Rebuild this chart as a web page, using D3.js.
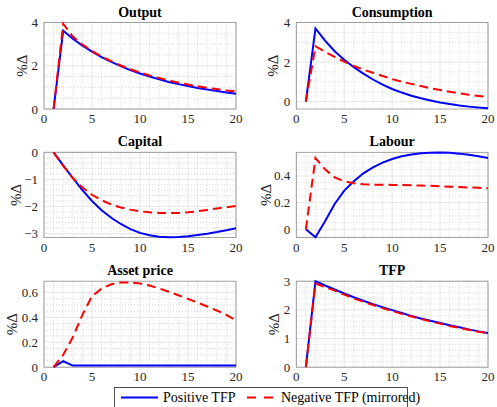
<!DOCTYPE html>
<html>
<head>
<meta charset="utf-8">
<script src="https://cdn.jsdelivr.net/npm/d3@7"></script>
</head>
<body style="margin:0">
<script>
// periods
var periods = [1,2,3,4,5,6,7,8,9,10,11,12,13,14,15,16,17,18,19,20];

// positive TFP shock (blue) / negative TFP shock mirrored (red)
var outputPos = [0,3.62,3.25,2.93,2.65,2.40,2.18,1.98,1.80,1.64,1.50,1.37,1.25,1.15,1.06,0.97,0.90,0.83,0.76,0.70];
var outputNeg = [0,3.94,3.35,2.98,2.68,2.43,2.21,2.01,1.84,1.69,1.55,1.43,1.32,1.22,1.13,1.05,0.98,0.92,0.86,0.81];

var consPos = [0,3.70,3.08,2.55,2.12,1.74,1.42,1.12,0.86,0.64,0.46,0.30,0.17,0.06,-0.04,-0.12,-0.19,-0.25,-0.30,-0.33];
var consNeg = [0,2.80,2.52,2.26,2.02,1.80,1.62,1.46,1.30,1.14,1.01,0.90,0.79,0.68,0.59,0.50,0.42,0.35,0.29,0.24];

var capPos = [0,-0.48,-0.95,-1.40,-1.80,-2.14,-2.42,-2.65,-2.84,-2.98,-3.07,-3.12,-3.14,-3.13,-3.10,-3.06,-3.01,-2.95,-2.88,-2.81];
var capNeg = [0,-0.50,-0.95,-1.30,-1.57,-1.77,-1.93,-2.04,-2.12,-2.18,-2.22,-2.24,-2.25,-2.24,-2.22,-2.18,-2.13,-2.08,-2.03,-1.98];

var labPos = [0,-0.06,0.06,0.19,0.29,0.36,0.42,0.465,0.50,0.528,0.548,0.562,0.571,0.575,0.576,0.574,0.568,0.559,0.548,0.536];
var labNeg = [0,0.535,0.45,0.39,0.36,0.345,0.338,0.335,0.334,0.333,0.332,0.330,0.328,0.326,0.323,0.320,0.317,0.314,0.311,0.308];

var assetPos = [0,0.048,0.013,0.013,0.013,0.013,0.013,0.013,0.013,0.013,0.013,0.013,0.013,0.013,0.013,0.013,0.013,0.013,0.013,0.013];
var assetNeg = [0,0.10,0.24,0.42,0.57,0.63,0.665,0.68,0.68,0.672,0.655,0.632,0.605,0.577,0.548,0.518,0.487,0.455,0.42,0.375];

var tfpPos = [0,3.00,2.85,2.71,2.57,2.44,2.32,2.20,2.09,1.99,1.89,1.79,1.70,1.62,1.54,1.46,1.39,1.32,1.25,1.19];
var tfpNeg = [0,2.92,2.80,2.67,2.53,2.40,2.28,2.17,2.06,1.96,1.86,1.77,1.68,1.60,1.52,1.44,1.37,1.30,1.24,1.18];

var xTicks = [0,5,10,15,20];
var legendLabels = ["Positive TFP", "Negative TFP (mirrored)"];

var panels = [
  {title: "Output",      pos: outputPos, neg: outputNeg, dom: [0,4],       ticks: [0,2,4],         minor: 0.5,  col: 0, row: 0},
  {title: "Consumption", pos: consPos,   neg: consNeg,   dom: [-0.37,4],   ticks: [0,2,4],         minor: 0.5,  col: 1, row: 0},
  {title: "Capital",     pos: capPos,    neg: capNeg,    dom: [-3.15,0],   ticks: [-3,-2,-1,0],    minor: 0.2,  col: 0, row: 1},
  {title: "Labour",      pos: labPos,    neg: labNeg,    dom: [-0.062,0.578], ticks: [0,0.2,0.4],  minor: 0.05, col: 1, row: 1},
  {title: "Asset price", pos: assetPos,  neg: assetNeg,  dom: [0,0.69],    ticks: [0,0.2,0.4,0.6], minor: 0.05, col: 0, row: 2},
  {title: "TFP",         pos: tfpPos,    neg: tfpNeg,    dom: [0,3],       ticks: [0,1,2,3],       minor: 0.2,  col: 1, row: 2}
];

var W = 497, H = 407;
var FONT = "'Times New Roman'";
var colX = [[44, 236], [296.3, 488]];
var rowY = [[22.5, 109], [152.3, 237.5], [281.2, 367.2]];
var ylabX = [[22, 273], [16, 266], [12, 274]];

var svg = d3.select('body').append('svg')
  .attr('width', W)
  .attr('height', H)
  .style('font-family', FONT);

// draws one label with serif font
function label(sel, txt, size) {
  return sel.append('text')
    .style('font-family', FONT)
    .style('font-size', size + 'px')
    .text(txt);
}

panels.forEach(function(p){
  var x0 = colX[p.col][0], x1 = colX[p.col][1];
  var y0 = rowY[p.row][0], y1 = rowY[p.row][1];

  var x = d3.scaleLinear().domain([0, 20]).range([x0, x1]);
  var y = d3.scaleLinear().domain(p.dom).range([y1, y0]);

  var g = svg.append('g');

  // minor grid
  var xm = d3.range(1, 20).filter(function(v){ return v % 5 !== 0; });
  g.selectAll('.xminor').data(xm).enter().append('line')
    .attr('x1', function(d){ return x(d); }).attr('x2', function(d){ return x(d); })
    .attr('y1', y0).attr('y2', y1)
    .attr('stroke', '#b8b8b8').attr('stroke-width', 0.6).attr('stroke-dasharray', '1,2');

  var ym = [];
  var step = p.minor;
  for (var v = Math.ceil(p.dom[0] / step) * step; v <= p.dom[1] + 1e-9; v += step) {
    var r = Math.round(v * 1000) / 1000;
    if (p.ticks.indexOf(r) < 0) ym.push(r);
  }
  g.selectAll('.yminor').data(ym).enter().append('line')
    .attr('x1', x0).attr('x2', x1)
    .attr('y1', function(d){ return y(d); }).attr('y2', function(d){ return y(d); })
    .attr('stroke', '#b8b8b8').attr('stroke-width', 0.6).attr('stroke-dasharray', '1,2');

  // major grid
  g.selectAll('.xgrid').data(xTicks).enter().append('line')
    .attr('x1', function(d){ return x(d); }).attr('x2', function(d){ return x(d); })
    .attr('y1', y0).attr('y2', y1)
    .attr('stroke', '#dedede').attr('stroke-width', 0.8);
  g.selectAll('.ygrid').data(p.ticks).enter().append('line')
    .attr('x1', x0).attr('x2', x1)
    .attr('y1', function(d){ return y(d); }).attr('y2', function(d){ return y(d); })
    .attr('stroke', '#dedede').attr('stroke-width', 0.8);

  // box
  g.append('rect')
    .attr('x', x0).attr('y', y0)
    .attr('width', x1 - x0).attr('height', y1 - y0)
    .attr('fill', 'none').attr('stroke', '#8c8c8c').attr('stroke-width', 0.8);

  // tick labels from the scales
  xTicks.forEach(function(t){
    label(g, String(t), 13)
      .attr('x', x(t)).attr('y', y1 + 14)
      .attr('text-anchor', 'middle').attr('fill', '#262626');
  });
  p.ticks.forEach(function(t){
    label(g, d3.format('')(t), 13)
      .attr('x', x0 - 6).attr('y', y(t) + 4.5)
      .attr('text-anchor', 'end').attr('fill', '#262626');
  });

  // clip lines to axes
  var clipId = 'clip' + p.col + p.row;
  g.append('clipPath').attr('id', clipId).append('rect')
    .attr('x', x0).attr('y', y0 - 2).attr('width', x1 - x0).attr('height', y1 - y0 + 4);

  var line = d3.line()
    .x(function(d, i){ return x(periods[i]); })
    .y(function(d){ return y(d); });

  g.append('path').datum(p.pos)
    .attr('d', line).attr('fill', 'none')
    .attr('stroke', '#0000ff').attr('stroke-width', 2)
    .attr('clip-path', 'url(#' + clipId + ')');
  g.append('path').datum(p.neg)
    .attr('d', line).attr('fill', 'none')
    .attr('stroke', '#ff0000').attr('stroke-width', 2)
    .attr('stroke-dasharray', '9,5')
    .attr('clip-path', 'url(#' + clipId + ')');

  // title
  label(g, p.title, 14)
    .attr('x', (x0 + x1) / 2).attr('y', y0 - 6)
    .attr('text-anchor', 'middle')
    .style('font-weight', 'bold')
    .attr('fill', '#000');

  // y label
  var lx = ylabX[p.row][p.col], ly = (y0 + y1) / 2;
  label(g, '%\u0394', 15)
    .attr('transform', 'translate(' + (lx + 5) + ',' + ly + ') rotate(-90)')
    .attr('text-anchor', 'middle')
    .attr('fill', '#262626');
});

// legend
var lg = svg.append('g');
lg.append('rect')
  .attr('x', 114.5).attr('y', 387.5).attr('width', 293).attr('height', 24)
  .attr('fill', '#fff').attr('stroke', '#262626').attr('stroke-width', 0.8);
lg.append('line')
  .attr('x1', 121).attr('x2', 158).attr('y1', 397.5).attr('y2', 397.5)
  .attr('stroke', '#0000ff').attr('stroke-width', 2);
label(lg, legendLabels[0], 14).attr('x', 163).attr('y', 402).attr('fill', '#000');
lg.append('line')
  .attr('x1', 247).attr('x2', 275).attr('y1', 397.5).attr('y2', 397.5)
  .attr('stroke', '#ff0000').attr('stroke-width', 2).attr('stroke-dasharray', '9,8');
label(lg, legendLabels[1], 14).attr('x', 281).attr('y', 402).attr('fill', '#000');
</script>
</body>
</html>
